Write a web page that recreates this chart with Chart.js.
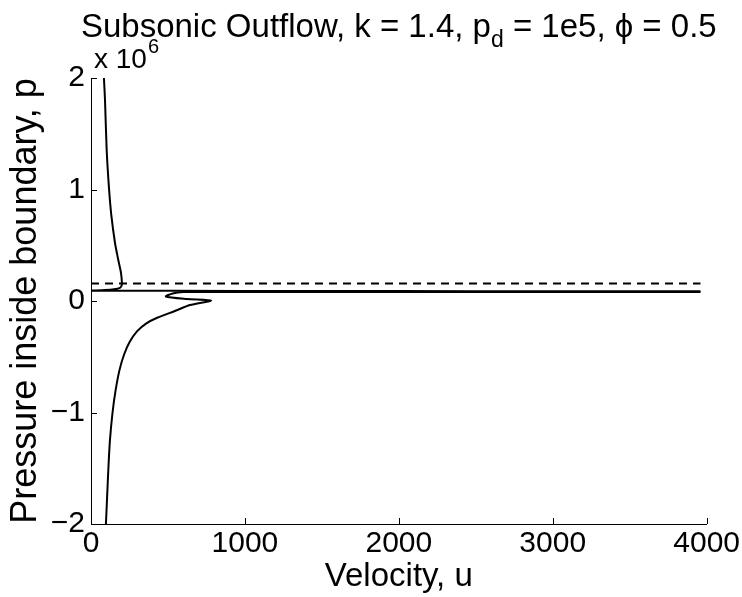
<!DOCTYPE html>
<html>
<head>
<meta charset="utf-8">
<script src="https://cdn.jsdelivr.net/npm/chart.js@4.4.0/dist/chart.umd.min.js"></script>
<style>
  html, body { margin: 0; padding: 0; background: #fff; }
  #wrap { position: relative; width: 742px; height: 597px; }
</style>
</head>
<body>
<div id="wrap"><canvas id="chart"></canvas></div>
<script>
// velocity u and pressure p (Pa)
const upperU = [84, 91, 102, 117, 132, 156, 177, 195, 201, 198, 188, 150, 90, 30, 0, 1000, 2000, 3000, 3960];
const upperP = [2.0e6, 1.8e6, 1.35e6, 1.01e6, 0.77e6, 0.52e6, 0.37e6, 0.25e6, 0.16e6, 0.135e6, 0.118e6, 0.106e6, 0.098e6, 0.094e6, 0.093e6, 0.09e6, 0.089e6, 0.088e6, 0.088e6];

const lowerU = [97, 104, 113, 123, 140, 160, 185, 215, 250, 300, 360, 430, 545, 643, 779, 623, 487, 530, 600, 1000, 2000, 3000, 3960];
const lowerP = [-2.0e6, -1.78e6, -1.5e6, -1.25e6, -1.0e6, -0.8e6, -0.62e6, -0.48e6, -0.37e6, -0.27e6, -0.2e6, -0.15e6, -0.09e6, -0.036e6, 0.004e6, 0.018e6, 0.04e6, 0.068e6, 0.08e6, 0.08e6, 0.08e6, 0.08e6, 0.08e6];

const refU = [0, 3960];
const refP = [0.158e6, 0.158e6];

const xTicks = [0, 1000, 2000, 3000, 4000];
const yTicks = [-2e6, -1e6, 0, 1e6, 2e6];

const FONT = '"Liberation Sans", Arial, Helvetica, sans-serif';

function pts(us, ps) {
  return us.map((u, i) => ({ x: u, y: ps[i] }));
}

// MATLAB-style inward tick marks, title with subscript and the exponent label
const decorations = {
  id: "decorations",
  afterDraw(chart) {
    const ctx = chart.ctx;
    const area = chart.chartArea;
    const xs = chart.scales.x;
    const ys = chart.scales.y;
    ctx.save();
    ctx.strokeStyle = "#000";
    ctx.lineWidth = 1;
    ctx.beginPath();
    yTicks.forEach((v) => {
      const y = Math.round(ys.getPixelForValue(v)) + 0.5;
      ctx.moveTo(area.left, y);
      ctx.lineTo(area.left + 6, y);
    });
    xTicks.forEach((v) => {
      const x = Math.round(xs.getPixelForValue(v)) + 0.5;
      ctx.moveTo(x, area.bottom);
      ctx.lineTo(x, area.bottom - 6);
    });
    ctx.stroke();

    // title
    ctx.fillStyle = "#000";
    ctx.textBaseline = "alphabetic";
    ctx.textAlign = "left";
    const big = "33px " + FONT;
    const small = "23px " + FONT;
    const parts = [
      { t: "Subsonic Outflow, k = 1.4, p", f: big, dy: 0 },
      { t: "d", f: small, dy: 10 },
      { t: " = 1e5, ", f: big, dy: 0 },
      { t: "\u03D5", f: big, dy: 0 },
      { t: " = 0.5", f: big, dy: 0 },
    ];
    let total = 0;
    parts.forEach((p) => { ctx.font = p.f; p.w = ctx.measureText(p.t).width; total += p.w; });
    let x = (area.left + area.right) / 2 - total / 2;
    const base = 37;
    parts.forEach((p) => {
      ctx.font = p.f;
      ctx.fillText(p.t, x, base + p.dy);
      x += p.w;
    });

    // exponent label
    ctx.font = "28px " + FONT;
    ctx.fillText("x 10", area.left + 3, 68);
    const w = ctx.measureText("x 10").width;
    ctx.font = "20px " + FONT;
    ctx.fillText("6", area.left + 3 + w + 1, 53);
    ctx.restore();
  },
};

new Chart(document.getElementById("chart"), {
  type: "scatter",
  data: {
    datasets: [
      { data: pts(upperU, upperP), showLine: true, borderColor: "#000", borderWidth: 2, pointRadius: 0, tension: 0.25 },
      { data: pts(lowerU, lowerP), showLine: true, borderColor: "#000", borderWidth: 2, pointRadius: 0, tension: 0.25 },
      { data: pts(refU, refP), showLine: true, borderColor: "#000", borderWidth: 2, borderDash: [8, 6], pointRadius: 0 },
    ],
  },
  options: {
    responsive: true,
    maintainAspectRatio: false,
    animation: false,
    layout: { padding: { top: 78, right: 35, bottom: 0, left: 0 } },
    plugins: { legend: { display: false }, tooltip: { enabled: false }, title: { display: false } },
    scales: {
      x: {
        type: "linear",
        min: 0,
        max: 4000,
        afterBuildTicks: (s) => { s.ticks = xTicks.map((v) => ({ value: v })); },
        afterFit: (s) => { s.height = 73; },
        grid: { display: true, drawOnChartArea: false, drawTicks: false },
        border: { display: true, color: "#000", width: 1 },
        ticks: { color: "#000", font: { family: FONT, size: 30 }, padding: 2, maxRotation: 0, callback: (v) => String(v) },
        title: { display: true, text: "Velocity, u", color: "#000", font: { family: FONT, size: 33 }, padding: { top: -9, bottom: 0 } },
      },
      y: {
        type: "linear",
        min: -2e6,
        max: 2e6,
        afterBuildTicks: (s) => { s.ticks = yTicks.map((v) => ({ value: v })); },
        afterFit: (s) => { s.width = 91; },
        grid: { display: true, drawOnChartArea: false, drawTicks: false },
        border: { display: true, color: "#000", width: 1 },
        ticks: {
          color: "#000",
          font: { family: FONT, size: 30 },
          padding: 6,
          callback: (v) => (v < 0 ? "\u2212" + Math.abs(v / 1e6) : String(v / 1e6)),
        },
        title: { display: true, text: "Pressure inside boundary, p", color: "#000", font: { family: FONT, size: 36 }, padding: { top: 4, bottom: 0 } },
      },
    },
  },
  plugins: [decorations],
});
</script>
</body>
</html>
